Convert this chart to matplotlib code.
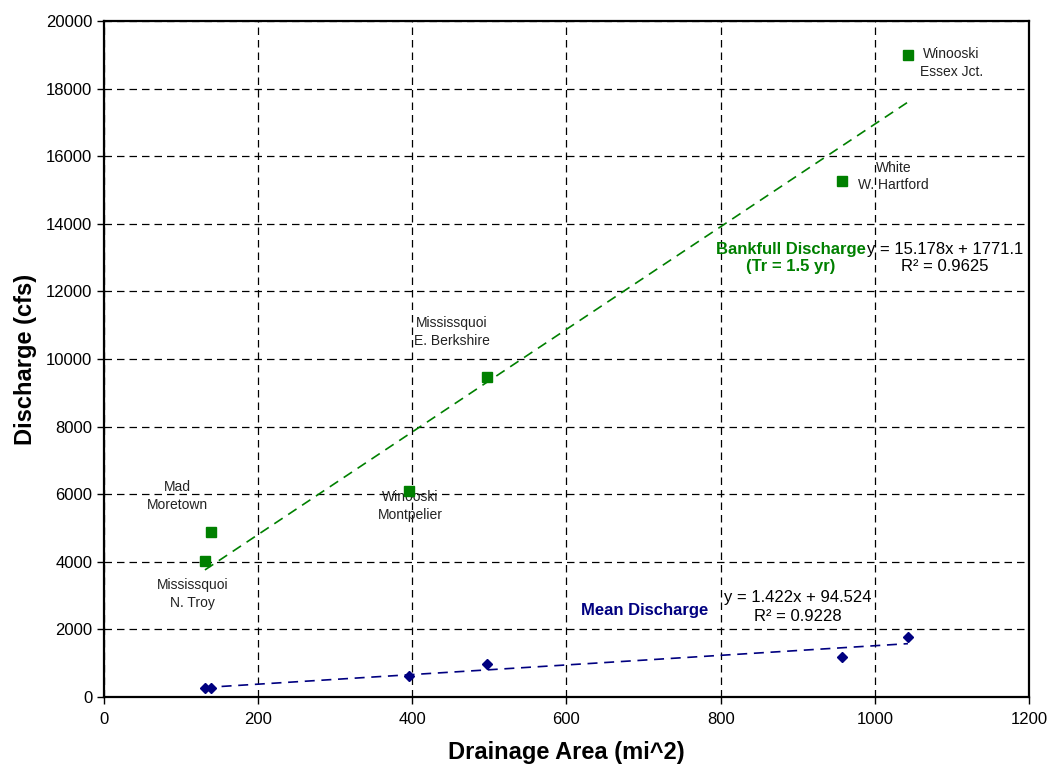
import numpy as np
import matplotlib
matplotlib.use('Agg')
import matplotlib.pyplot as plt
import matplotlib.ticker as ticker

plt.rcParams['font.family'] = ['Liberation Sans', 'DejaVu Sans']

# drainage area (mi^2) for each gauge
area = [131, 139, 396, 497, 958, 1043]
bankfull = [4030, 4870, 6100, 9460, 15280, 19000]
mean_q = [275, 275, 620, 975, 1190, 1770]

# trend lines as given on the chart
bank_fit = (15.178, 1771.1, 0.9625)
mean_fit = (1.422, 94.524, 0.9228)

# station labels: (text, x, y)
stations = [
  ('Mad\nMoretown', 95, 5950),
  ('Mississquoi\nN. Troy', 115, 3050),
  ('Winooski\nMontpelier', 397, 5650),
  ('Mississquoi\nE. Berkshire', 451, 10800),
  ('White\nW. Hartford', 1024, 15400),
  ('Winooski\nEssex Jct.', 1099, 18760),
]

GREEN = '#008000'
NAVY = '#000080'

fig = plt.figure(figsize=(10.49, 7.67), dpi=100)
ax = fig.add_axes([0.0991, 0.0913, 0.8818, 0.8813])

xs = np.array([min(area), max(area)])
ax.plot(xs, bank_fit[0] * xs + bank_fit[1], color=GREEN, lw=1.2,
        dashes=(6, 4), zorder=3)
ax.plot(xs, mean_fit[0] * xs + mean_fit[1], color=NAVY, lw=1.2,
        dashes=(6, 4), zorder=3)
ax.plot(area, bankfull, 's', color=GREEN, ms=7, zorder=4)
ax.plot(area, mean_q, 'D', color=NAVY, ms=5.5, zorder=4)

for txt, x, y in stations:
  ax.text(x, y, txt, ha='center', va='center', fontsize=10,
          linespacing=1.3, color='#222222')

ax.text(891, 12990, 'Bankfull Discharge\n(Tr = 1.5 yr)', ha='center',
        va='center', fontsize=12, fontweight='bold', color=GREEN,
        linespacing=1.2)
ax.text(1091, 12990, 'y = %.3fx + %.1f\nR\u00b2 = %.4f' % bank_fit,
        ha='center', va='center', fontsize=12, linespacing=1.2)
ax.text(701, 2550, 'Mean Discharge', ha='center', va='center',
        fontsize=12, fontweight='bold', color=NAVY)
ax.text(900, 2660, 'y = %.3fx + %.3f\nR\u00b2 = %.4f' % mean_fit,
        ha='center', va='center', fontsize=12, linespacing=1.35)

ax.set_xlim(0, 1200)
ax.set_ylim(0, 20000)
ax.xaxis.set_major_locator(ticker.MultipleLocator(200))
ax.yaxis.set_major_locator(ticker.MultipleLocator(2000))
ax.tick_params(labelsize=12, length=5, width=1, direction='out')
ax.tick_params(axis='x', pad=6)
ax.grid(True, color='black', lw=0.9, dashes=(6, 4))
ax.set_axisbelow(True)
for s in ax.spines.values():
  s.set_linewidth(1.6)

ax.set_xlabel('Drainage Area (mi^2)', fontsize=17, fontweight='bold',
              labelpad=10)
ax.set_ylabel('Discharge (cfs)', fontsize=17, fontweight='bold',
              labelpad=6)

fig.savefig('out.png', dpi=100)
